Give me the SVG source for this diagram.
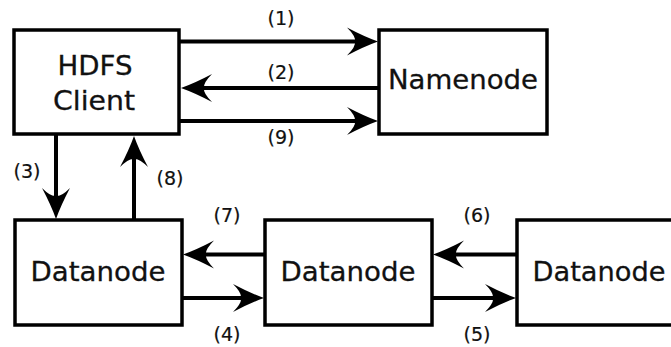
<svg xmlns="http://www.w3.org/2000/svg" xmlns:xlink="http://www.w3.org/1999/xlink" width="671" height="347" viewBox="0 0 671 347">
<style>
.box{fill:#fff;stroke:#000;stroke-width:3.5}
.nt{font-family:"DejaVu Sans","Liberation Sans",sans-serif;font-size:27px;fill:#111;text-anchor:middle;stroke:#111;stroke-width:0.3}
.lb{font-family:"DejaVu Sans","Liberation Sans",sans-serif;font-size:19px;fill:#111;text-anchor:middle;stroke:#111;stroke-width:0.2}
.ln{stroke:#000;stroke-width:4;fill:none}
.hd{fill:#000}
</style>
<defs>
<path id="ah" d="M0,0 Q-14,-5 -31,-14 Q-22,-5 -23,0 Q-22,5 -31,14 Q-14,5 0,0 Z"/>
</defs>
<rect width="671" height="347" fill="#fff"/>
<g id="client"><rect class="box" x="14" y="30" width="165" height="104"/><text class="nt" x="95" y="75" textLength="75" lengthAdjust="spacingAndGlyphs">HDFS</text><text class="nt" x="94" y="110" textLength="82" lengthAdjust="spacingAndGlyphs">Client</text></g>
<g id="namenode"><rect class="box" x="379" y="30" width="168" height="104"/><text class="nt" x="463" y="89" textLength="150" lengthAdjust="spacingAndGlyphs">Namenode</text></g>
<g id="datanode1"><rect class="box" x="15" y="220" width="167" height="105"/><text class="nt" x="98" y="281" textLength="135" lengthAdjust="spacingAndGlyphs">Datanode</text></g>
<g id="datanode2"><rect class="box" x="265" y="220" width="167" height="105"/><text class="nt" x="348" y="281" textLength="135" lengthAdjust="spacingAndGlyphs">Datanode</text></g>
<g id="datanode3"><rect class="box" x="517" y="220" width="175" height="105"/><text class="nt" x="599" y="281" textLength="133" lengthAdjust="spacingAndGlyphs">Datanode</text></g>
<g id="connectors">
<line class="ln" x1="180" y1="41.5" x2="358" y2="41.5"/>
<use class="hd" xlink:href="#ah" href="#ah" transform="translate(378,41.5)"/>
<line class="ln" x1="379" y1="88" x2="201" y2="88"/>
<use class="hd" xlink:href="#ah" href="#ah" transform="translate(181,88) rotate(180)"/>
<line class="ln" x1="180" y1="121" x2="358" y2="121"/>
<use class="hd" xlink:href="#ah" href="#ah" transform="translate(378,121)"/>
<line class="ln" x1="56" y1="135" x2="56" y2="199"/>
<use class="hd" xlink:href="#ah" href="#ah" transform="translate(56,219) rotate(90)"/>
<line class="ln" x1="134" y1="220" x2="134" y2="156"/>
<use class="hd" xlink:href="#ah" href="#ah" transform="translate(134,136) rotate(-90)"/>
<line class="ln" x1="265" y1="254.5" x2="203" y2="254.5"/>
<use class="hd" xlink:href="#ah" href="#ah" transform="translate(183,254.5) rotate(180)"/>
<line class="ln" x1="182" y1="298" x2="244" y2="298"/>
<use class="hd" xlink:href="#ah" href="#ah" transform="translate(264,298)"/>
<line class="ln" x1="517" y1="254.5" x2="453" y2="254.5"/>
<use class="hd" xlink:href="#ah" href="#ah" transform="translate(433,254.5) rotate(180)"/>
<line class="ln" x1="432" y1="298" x2="496" y2="298"/>
<use class="hd" xlink:href="#ah" href="#ah" transform="translate(516,298)"/>
<text class="lb" x="281" y="25" textLength="27" lengthAdjust="spacingAndGlyphs">(1)</text>
<text class="lb" x="281" y="79" textLength="27" lengthAdjust="spacingAndGlyphs">(2)</text>
<text class="lb" x="281" y="144" textLength="27" lengthAdjust="spacingAndGlyphs">(9)</text>
<text class="lb" x="27" y="178" textLength="27" lengthAdjust="spacingAndGlyphs">(3)</text>
<text class="lb" x="170" y="185" textLength="27" lengthAdjust="spacingAndGlyphs">(8)</text>
<text class="lb" x="227" y="222" textLength="27" lengthAdjust="spacingAndGlyphs">(7)</text>
<text class="lb" x="227" y="341" textLength="27" lengthAdjust="spacingAndGlyphs">(4)</text>
<text class="lb" x="477" y="222" textLength="27" lengthAdjust="spacingAndGlyphs">(6)</text>
<text class="lb" x="477" y="341" textLength="27" lengthAdjust="spacingAndGlyphs">(5)</text>
</g>
</svg>
